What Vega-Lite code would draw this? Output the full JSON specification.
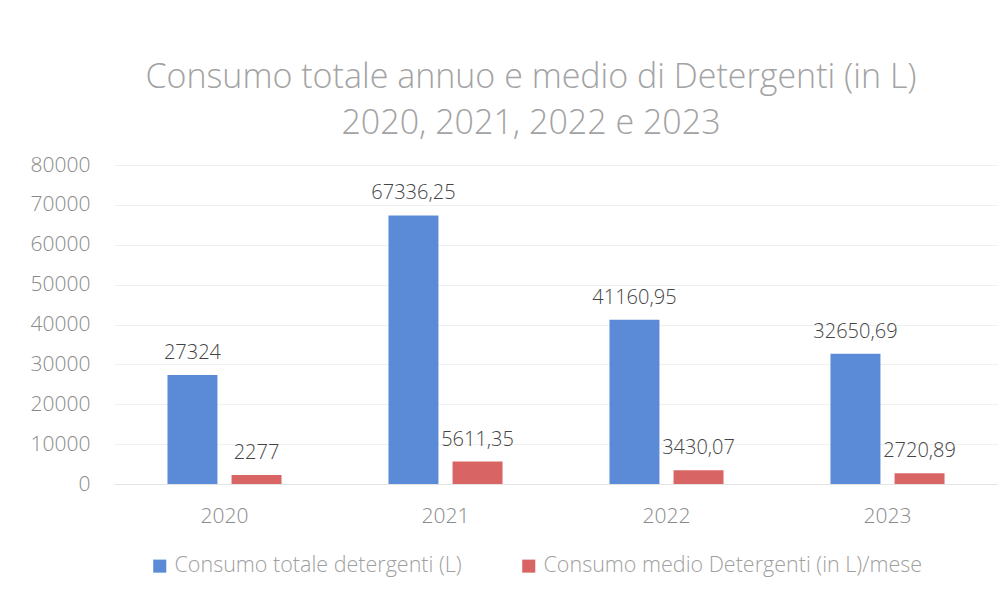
{
  "$schema": "https://vega.github.io/schema/vega-lite/v6.json",
  "width": 884,
  "height": 319,
  "autosize": {"type": "none"},
  "padding": {"left": 114, "top": 165, "right": 0, "bottom": 114},
  "background": "white",
  "title": {
    "text": ["Consumo totale annuo e medio di Detergenti (in L)", "2020, 2021, 2022 e 2023"],
    "font": "Open Sans",
    "fontSize": 34,
    "fontWeight": 300,
    "color": "#a3a3a3",
    "lineHeight": 46,
    "anchor": "middle",
    "frame": "group",
    "dx": -25,
    "offset": 13
  },
  "data": {
    "values": [
      {"anno": "2020", "serie": "Consumo totale detergenti (L)", "valore": 27324, "etichetta": "27324"},
      {"anno": "2020", "serie": "Consumo medio Detergenti (in L)/mese", "valore": 2277, "etichetta": "2277"},
      {"anno": "2021", "serie": "Consumo totale detergenti (L)", "valore": 67336.25, "etichetta": "67336,25"},
      {"anno": "2021", "serie": "Consumo medio Detergenti (in L)/mese", "valore": 5611.35, "etichetta": "5611,35"},
      {"anno": "2022", "serie": "Consumo totale detergenti (L)", "valore": 41160.95, "etichetta": "41160,95"},
      {"anno": "2022", "serie": "Consumo medio Detergenti (in L)/mese", "valore": 3430.07, "etichetta": "3430,07"},
      {"anno": "2023", "serie": "Consumo totale detergenti (L)", "valore": 32650.69, "etichetta": "32650,69"},
      {"anno": "2023", "serie": "Consumo medio Detergenti (in L)/mese", "valore": 2720.89, "etichetta": "2720,89"}
    ]
  },
  "encoding": {
    "x": {
      "field": "anno",
      "type": "nominal",
      "title": null,
      "scale": {"paddingInner": 0.484, "paddingOuter": 0.242},
      "axis": {
        "labelAngle": 0,
        "labelFont": "Open Sans",
        "labelFontSize": 21,
        "labelFontWeight": 300,
        "labelColor": "#8a8a8a",
        "labelPadding": 21,
        "ticks": false,
        "domainColor": "#e4e4e4",
        "grid": false
      }
    },
    "xOffset": {
      "field": "serie",
      "type": "nominal",
      "sort": ["Consumo totale detergenti (L)", "Consumo medio Detergenti (in L)/mese"],
      "scale": {"paddingInner": 0.22, "paddingOuter": 0}
    },
    "y": {
      "field": "valore",
      "type": "quantitative",
      "title": null,
      "scale": {"domain": [0, 80000]},
      "axis": {
        "values": [0, 10000, 20000, 30000, 40000, 50000, 60000, 70000, 80000],
        "format": "d",
        "labelFont": "Open Sans",
        "labelFontSize": 21,
        "labelFontWeight": 300,
        "labelColor": "#8a8a8a",
        "labelPadding": 24,
        "ticks": false,
        "domain": false,
        "gridColor": "#f0f0f0"
      }
    }
  },
  "layer": [
    {
      "mark": {"type": "bar"},
      "encoding": {
        "color": {
          "field": "serie",
          "type": "nominal",
          "sort": ["Consumo totale detergenti (L)", "Consumo medio Detergenti (in L)/mese"],
          "scale": {
            "domain": ["Consumo totale detergenti (L)", "Consumo medio Detergenti (in L)/mese"],
            "range": ["#5b8bd7", "#d96464"]
          },
          "legend": {
            "title": null,
            "orient": "none",
            "legendX": 35,
            "legendY": 390,
            "direction": "horizontal",
            "symbolType": "square",
            "symbolSize": 170,
            "symbolStrokeWidth": 0,
            "labelFont": "Open Sans",
            "labelFontSize": 21.5,
            "labelFontWeight": 300,
            "labelColor": "#a0a0a0",
            "labelLimit": 600,
            "columnPadding": 56
          }
        }
      }
    },
    {
      "mark": {
        "type": "text",
        "baseline": "bottom",
        "dy": -12,
        "font": "Open Sans",
        "fontSize": 20,
        "fontWeight": 300,
        "color": "#444444"
      },
      "encoding": {
        "text": {"field": "etichetta", "type": "nominal"}
      }
    }
  ],
  "config": {
    "view": {"stroke": null}
  }
}
